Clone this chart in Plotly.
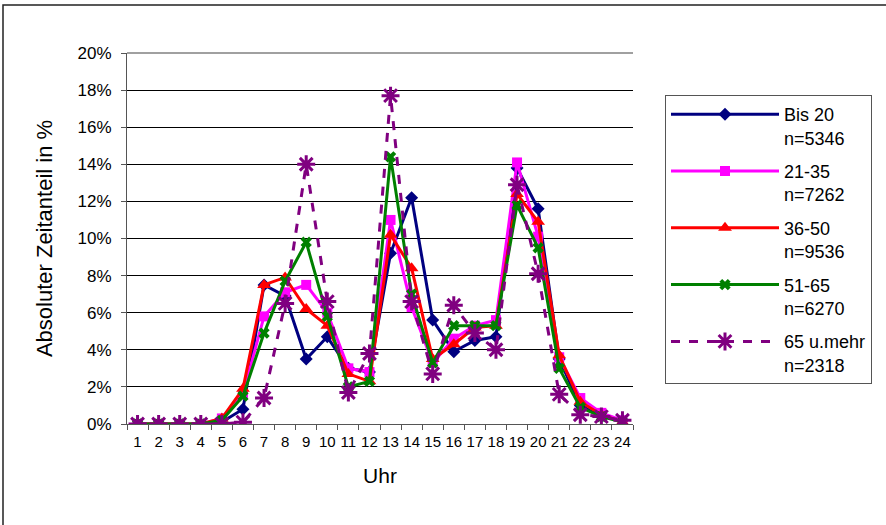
import plotly.graph_objects as go

# Stunde des Tages (Kategorien auf der x-Achse)
hours = [str(h) for h in range(1, 25)]

# Absoluter Zeitanteil in % je Altersgruppe
bis_20 = [0, 0, 0, 0, 0.1, 0.8, 7.5, 6.9, 3.5, 4.7, 3.0, 2.8,
          9.2, 12.2, 5.6, 3.9, 4.5, 4.7, 13.8, 11.6, 3.5, 1.0, 0.4, 0.2]
age_21_35 = [0, 0, 0, 0, 0.3, 1.6, 5.8, 7.1, 7.5, 6.0, 3.0, 2.8,
             11.0, 6.3, 3.3, 4.6, 5.3, 5.6, 14.1, 10.1, 3.6, 1.4, 0.6, 0.2]
age_36_50 = [0, 0, 0, 0, 0.3, 1.9, 7.5, 7.9, 6.2, 5.3, 2.7, 2.3,
             10.2, 8.4, 3.5, 4.3, 5.2, 5.3, 12.4, 10.9, 3.7, 1.2, 0.5, 0.1]
age_51_65 = [0, 0, 0, 0, 0.2, 1.5, 4.9, 7.7, 9.8, 5.8, 2.0, 2.3,
             14.4, 7.0, 3.3, 5.3, 5.3, 5.3, 11.8, 9.5, 3.0, 0.9, 0.4, 0.1]
age_65_plus = [0, 0, 0, 0, 0, 0.1, 1.4, 6.5, 14.0, 6.6, 1.7, 3.8,
               17.7, 6.6, 2.7, 6.4, 4.9, 4.0, 12.9, 8.1, 1.6, 0.5, 0.4, 0.2]

series_names = ["Bis 20<br>n=5346", "21-35<br>n=7262", "36-50<br>n=9536",
                "51-65<br>n=6270", "65 u.mehr<br>n=2318"]
series_values = [bis_20, age_21_35, age_36_50, age_51_65, age_65_plus]
series_colors = ["#000080", "#FF00FF", "#FF0000", "#008000", "#800080"]
series_symbols = ["diamond", "square", "triangle-up", "x", "asterisk-open"]
series_sizes = [10, 10, 12, 10, 15]
series_dash = ["solid", "solid", "solid", "solid", "dash"]

FONT = "Liberation Sans, Arial, sans-serif"
W, H = 886, 525
ML, MR, MT, MB = 127, 253, 53, 101
PW, PH = W - ML - MR, H - MT - MB

fig = go.Figure()
for name, vals, col, sym, size, dash in zip(series_names, series_values, series_colors,
                                            series_symbols, series_sizes, series_dash):
    is_open = sym.endswith("open")
    fig.add_trace(go.Scatter(
        x=hours, y=vals, name=name, mode="lines+markers",
        legendgroup=name,
        line=dict(color=col, width=3, dash=dash),
        marker=dict(symbol=sym, size=size, color=col,
                    line=dict(color=col, width=3 if is_open else 0)),
    ))

# Rahmen um die gesamte Grafik
fig.add_shape(type="rect", xref="paper", yref="paper",
              x0=(3 - ML) / PW, x1=(W + 10 - ML) / PW,
              y0=-(H + 10 - MT - PH) / PH, y1=(H - 5 - MB) / PH,
              line=dict(color="#222222", width=1.5), layer="below")

# obere Begrenzungslinie des Diagrammbereichs in Grau
fig.add_shape(type="line", xref="paper", yref="paper", x0=0, x1=1, y0=1, y1=1,
              line=dict(color="#808080", width=1.5))

fig.update_layout(
    width=W, height=H,
    margin=dict(l=ML, r=MR, t=MT, b=MB, pad=0),
    paper_bgcolor="white", plot_bgcolor="white",
    font=dict(family=FONT, color="black"),
    showlegend=True,
    legend=dict(
        x=(665 - ML) / PW, y=(H - MB - 95) / PH, xanchor="left", yanchor="top",
        bordercolor="#555555", borderwidth=1, bgcolor="white",
        font=dict(size=18, family=FONT), itemwidth=108,
        tracegroupgap=7, traceorder="grouped", valign="top",
    ),
    xaxis=dict(
        type="category", range=[-0.5, 23.5], tickson="boundaries",
        ticks="outside", ticklen=5,
        tickcolor="#555555", showline=True, linecolor="#555555", linewidth=1,
        showgrid=False, tickangle=0, tickfont=dict(size=15), ticklabelstandoff=4,
        title=dict(text="Uhr", font=dict(size=21), standoff=19),
    ),
    yaxis=dict(
        range=[0, 20], dtick=2, ticksuffix="%", ticks="outside", ticklen=5,
        tickcolor="#555555", showline=True, linecolor="#555555", linewidth=1,
        showgrid=True, gridcolor="black", gridwidth=1, zeroline=False,
        tickfont=dict(size=17), ticklabelstandoff=6,
        title=dict(text="Absoluter Zeitanteil in %", font=dict(size=22), standoff=18),
    ),
)

fig.write_html("out.html")
